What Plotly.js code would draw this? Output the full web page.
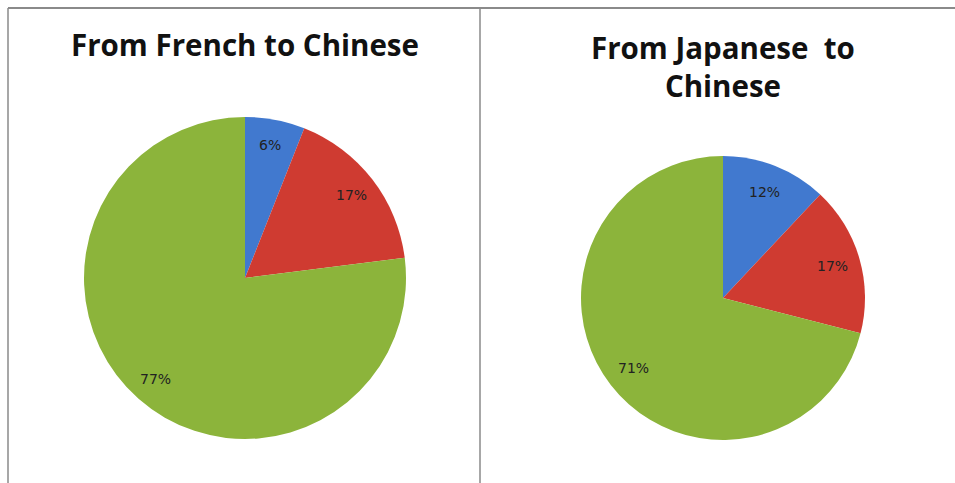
<!DOCTYPE html>
<html>
<head>
<meta charset="utf-8">
<script src="https://cdn.plot.ly/plotly-3.0.1.min.js"></script>
<style>
  html, body { margin: 0; padding: 0; background: #ffffff; }
  #chart { width: 955px; height: 483px; }
</style>
</head>
<body>
<div id="chart"></div>
<script>
// Share of each category, French -> Chinese and Japanese -> Chinese
const categories = ['A', 'B', 'C'];
const frenchValues = [6, 17, 77];
const japaneseValues = [12, 17, 71];
const titleFrench = 'From French to Chinese';
const titleJapanese = 'From Japanese&nbsp; to<br>Chinese';
const sliceColors = ['#4179cf', '#cf3b31', '#8cb43b'];

const W = 955, H = 483;

// pie geometry in pixels (center x, center y, radius)
const pieLeft = { cx: 245, cy: 278, r: 161 };
const pieRight = { cx: 723, cy: 298, r: 142 };

function domainOf(p) {
  return {
    x: [(p.cx - p.r) / W, (p.cx + p.r) / W],
    y: [1 - (p.cy + p.r) / H, 1 - (p.cy - p.r) / H]
  };
}

function pieTrace(values, p) {
  return {
    type: 'pie',
    labels: categories,
    values: values,
    sort: false,
    direction: 'clockwise',
    rotation: 0,
    marker: { colors: sliceColors, line: { width: 0 } },
    textinfo: 'none',
    hoverinfo: 'label+percent',
    showlegend: false,
    domain: domainOf(p)
  };
}

// percentage labels placed along each slice's middle angle
function sliceLabels(values, p, frac) {
  const total = values.reduce((a, b) => a + b, 0);
  let cum = 0;
  return values.map(v => {
    const mid = (cum + v / 2) / total * 2 * Math.PI;
    cum += v;
    const px = p.cx + frac * p.r * Math.sin(mid);
    const py = p.cy - frac * p.r * Math.cos(mid);
    return {
      xref: 'paper', yref: 'paper',
      x: px / W, y: 1 - py / H,
      text: Math.round(v / total * 100) + '%',
      showarrow: false,
      xanchor: 'center', yanchor: 'middle',
      font: { family: 'DejaVu Sans, sans-serif', size: 14, color: '#222222' }
    };
  });
}

const titleFont = { family: 'Open Sans, sans-serif', size: 29.5, color: '#111111', weight: 'bold' };

const annotations = [
  {
    xref: 'paper', yref: 'paper', x: 245 / W, y: 1 - 45 / H,
    text: '<b>' + titleFrench + '</b>', showarrow: false,
    xanchor: 'center', yanchor: 'middle', font: titleFont
  },
  {
    xref: 'paper', yref: 'paper', x: 723 / W, y: 1 - 66 / H,
    text: '<b>' + titleJapanese + '</b>', showarrow: false,
    xanchor: 'center', yanchor: 'middle', font: titleFont
  }
].concat(sliceLabels(frenchValues, pieLeft, 0.84))
 .concat(sliceLabels(japaneseValues, pieRight, 0.80));

// panel frame lines
const lineStyle = { color: '#8a8a8a', width: 1.5 };
const shapes = [
  { type: 'line', xref: 'paper', yref: 'paper', x0: 8 / W, x1: 1, y0: 1 - 8 / H, y1: 1 - 8 / H, line: { color: '#8a8a8a', width: 2 } },
  { type: 'line', xref: 'paper', yref: 'paper', x0: 8 / W, x1: 8 / W, y0: 0, y1: 1 - 8 / H, line: lineStyle },
  { type: 'line', xref: 'paper', yref: 'paper', x0: 480 / W, x1: 480 / W, y0: 0, y1: 1 - 8 / H, line: lineStyle }
];

const layout = {
  width: W, height: H,
  margin: { l: 0, r: 0, t: 0, b: 0 },
  paper_bgcolor: '#ffffff',
  plot_bgcolor: '#ffffff',
  annotations: annotations,
  shapes: shapes,
  showlegend: false
};

Plotly.newPlot('chart', [pieTrace(frenchValues, pieLeft), pieTrace(japaneseValues, pieRight)], layout, { displayModeBar: false, staticPlot: true });
</script>
</body>
</html>
